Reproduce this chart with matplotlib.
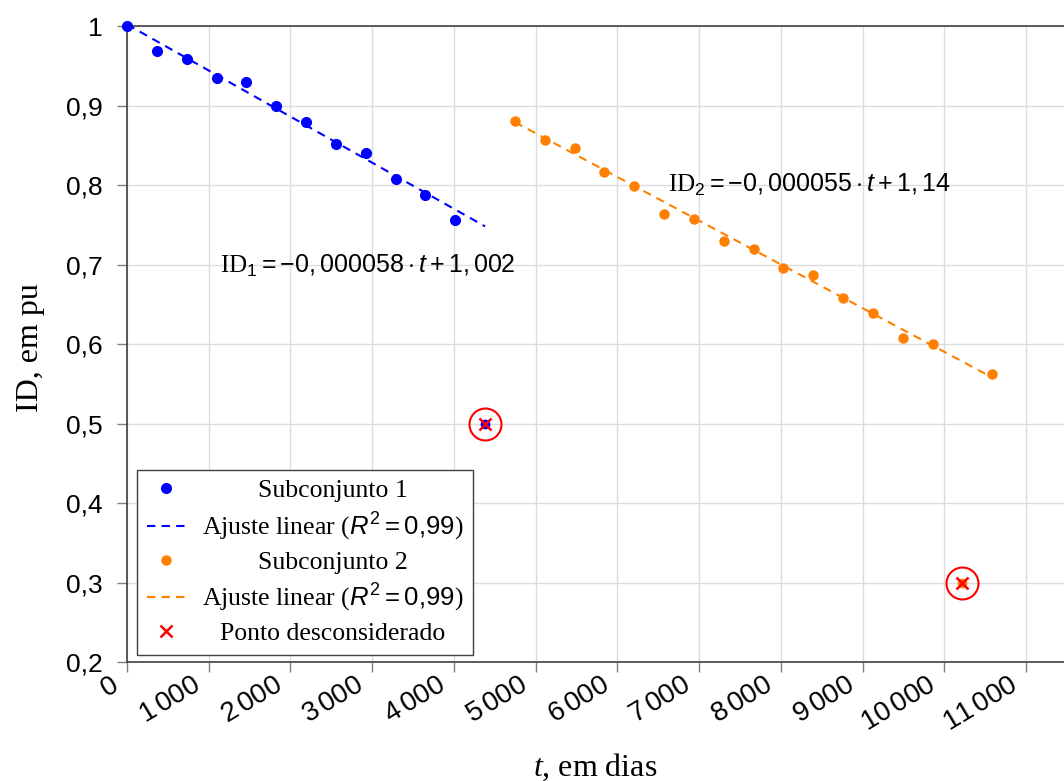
import matplotlib
matplotlib.use("Agg")
import matplotlib.pyplot as plt
from matplotlib.ticker import FixedLocator, FuncFormatter
from matplotlib.transforms import ScaledTranslation
import numpy as np

plt.rcParams['font.family'] = ['Liberation Sans', 'DejaVu Sans']
plt.rcParams['mathtext.fontset'] = 'custom'
plt.rcParams['mathtext.rm'] = 'Liberation Sans'
plt.rcParams['mathtext.it'] = 'Liberation Sans:italic'
plt.rcParams['mathtext.cal'] = 'Liberation Serif'
plt.rcParams['mathtext.sf'] = 'Liberation Serif:italic'

# dados (t em dias, ID em pu)
t1 = [0, 365, 730, 1095, 1460, 1825, 2190, 2555, 2920, 3285, 3650, 4015]
id1 = [1.000, 0.969, 0.958, 0.935, 0.930, 0.899, 0.879, 0.851, 0.840, 0.807, 0.787, 0.756]

t2 = [4745, 5110, 5475, 5840, 6205, 6570, 6935, 7300, 7665, 8030, 8395, 8760,
      9125, 9490, 9855, 10585]
id2 = [0.880, 0.857, 0.847, 0.816, 0.799, 0.764, 0.757, 0.730, 0.720, 0.696, 0.687,
       0.658, 0.639, 0.607, 0.600, 0.562]

# pontos desconsiderados
t_out = [4380, 10220]
id_out = [0.5, 0.3]

# ajustes lineares
a1, b1 = -0.000058, 1.002
a2, b2 = -0.000055, 1.14
fit1_t = [0, 4380]
fit2_t = [4745, 10585]

xticks = [0, 1000, 2000, 3000, 4000, 5000, 6000, 7000, 8000, 9000, 10000, 11000]
yticks = [0.2, 0.3, 0.4, 0.5, 0.6, 0.7, 0.8, 0.9, 1.0]

blue = '#0000ff'
orange = '#ff8000'


def fmt_x(v, p):
    v = int(round(v))
    if v < 1000:
        return '%d' % v
    return r'$%d\,%03d$' % (v // 1000, v % 1000)


def fmt_y(v, p):
    if abs(v - 1) < 1e-9:
        return '1'
    return ('%.1f' % v).replace('.', ',')


fig = plt.figure(figsize=(10.64, 7.81), dpi=100)
ax = fig.add_axes([127/1064, 1 - 662/781, 1 - 127/1064, (662 - 26)/781])

ax.plot(t1, id1, 'o', color=blue, ms=7, label='Subconjunto 1', zorder=3, clip_on=False)
f1 = np.array(fit1_t)
ax.plot(f1, a1*f1 + b1, '--', color=blue, lw=1.5, dashes=(4, 3),
        label=r'Ajuste linear ($R^2 = 0{,}99$)', zorder=3)
ax.plot(t2, id2, 'o', color=orange, ms=6.5, label='Subconjunto 2', zorder=3)
f2 = np.array(fit2_t)
ax.plot(f2, a2*f2 + b2, '--', color=orange, lw=1.5, dashes=(4, 3),
        label=r'Ajuste linear ($R^2 = 0{,}99$)', zorder=3)

# outliers: ponto original, x vermelho e circulo
ax.plot(t_out[0], id_out[0], 'o', color=blue, ms=6, zorder=3)
ax.plot(t_out[1], id_out[1], 'o', color=orange, ms=6, zorder=3)
ax.plot(t_out, id_out, 'x', color='red', ms=8, mew=1.8, ls='none',
        label='Ponto desconsiderado', zorder=4)
ax.plot(t_out, id_out, 'o', mfc='none', mec='red', ms=23, mew=1.5, ls='none', zorder=4)

ax.text(2950, 0.698, r'$\mathcal{ID}_1 = -0,000058 \cdot t + 1,002$', fontsize=18,
        ha='center', va='center')
ax.text(8350, 0.8, r'$\mathcal{ID}_2 = -0,000055 \cdot t + 1,14$', fontsize=18,
        ha='center', va='center')

ax.set_xlim(0, 11462)
ax.set_ylim(0.2, 1.0)
ax.xaxis.set_major_locator(FixedLocator(xticks))
ax.yaxis.set_major_locator(FixedLocator(yticks))
ax.yaxis.set_major_formatter(FuncFormatter(fmt_y))
ax.xaxis.set_major_formatter(FuncFormatter(fmt_x))
ax.grid(True, color='#dcdcdc', lw=1)
ax.set_axisbelow(True)

ax.tick_params(axis='both', direction='out', length=7.5, width=1, color='#808080')
ax.tick_params(axis='y', pad=10, labelsize=19)
ax.tick_params(axis='x', pad=12, labelsize=20)
for lab in ax.get_xticklabels():
    lab.set_rotation(31)
    lab.set_ha('right')
    lab.set_va('baseline')
    lab.set_rotation_mode('anchor')

for s in ['left', 'bottom', 'top']:
    ax.spines[s].set_color('#404040')
    ax.spines[s].set_linewidth(1.2)
ax.spines['right'].set_visible(False)

ax.set_xlabel(r'$\mathsf{t}$, em dias', family='Liberation Serif', fontsize=23, va='top')
ax.xaxis.set_label_coords(0.5, -0.141)
ax.set_ylabel('ID, em pu', family='Liberation Serif', fontsize=23, va='bottom')
ax.yaxis.set_label_coords(-0.0875, 0.495)

leg = ax.legend(loc='lower left', bbox_to_anchor=(10/937, 7/636), borderaxespad=0,
                prop={'family': 'Liberation Serif', 'size': 18.5},
                fancybox=False, edgecolor='#404040', framealpha=1, handlelength=1.52,
                labelspacing=0.32, borderpad=0.38, handletextpad=0.62)
leg.get_frame().set_linewidth(1)

fig.canvas.draw()
r = fig.canvas.get_renderer()

# centralizar os textos da legenda
texts = leg.get_texts()
widths = [tx.get_window_extent(r).width for tx in texts]
wmax = max(widths)
for tx, w in zip(texts, widths):
    tx.set_position(((wmax - w) / 2, 0))

# rotulos do eixo x um pouco a esquerda do tick
shift = ScaledTranslation(-5/72, 0, fig.dpi_scale_trans)
for lab in ax.get_xticklabels():
    lab.set_transform(lab.get_transform() + shift)

fig.savefig('out.png', dpi=100)
